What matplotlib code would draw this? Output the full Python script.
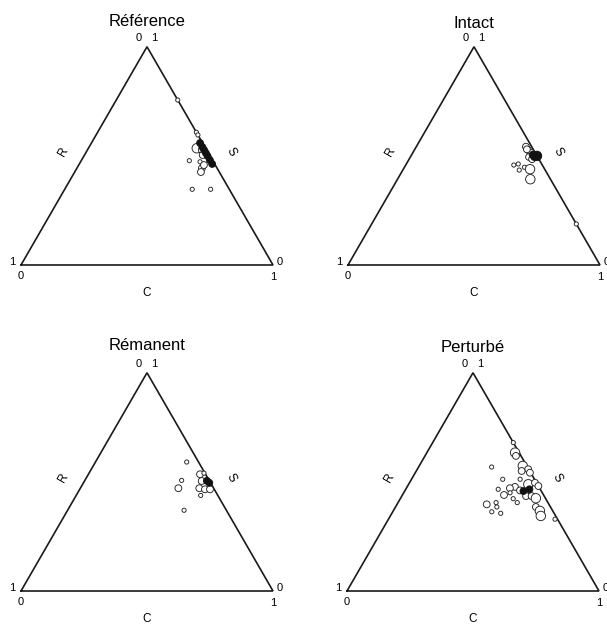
import numpy as np
import matplotlib.pyplot as plt

plt.rcParams['font.family'] = ['Liberation Sans', 'DejaVu Sans']

titles = ['Référence', 'Intact', 'Rémanent', 'Perturbé']

# ternary values: C (competitive) and S (stress-tolerant), R = 1 - C - S
# n = abundance class (1 small .. 3 large), f = filled marker
ref_c = [0.244, 0.392, 0.404, 0.430, 0.454, 0.469, 0.429, 0.474, 0.431, 0.449, 0.463,
         0.477, 0.491, 0.509, 0.527, 0.496, 0.501, 0.497, 0.506, 0.579]
ref_s = [0.756, 0.608, 0.596, 0.535, 0.527, 0.504, 0.478, 0.473, 0.559, 0.541, 0.527,
         0.513, 0.499, 0.481, 0.463, 0.444, 0.426, 0.458, 0.347, 0.347]
ref_n = [1, 1, 1, 3, 2, 2, 1, 1, 2, 2, 2, 2, 2, 2, 2, 2, 2, 2, 1, 1]
ref_f = [0, 0, 0, 0, 0, 0, 0, 0, 1, 1, 1, 1, 1, 1, 1, 0, 0, 0, 0, 0]

int_c = [0.500, 0.435, 0.451, 0.470, 0.491, 0.471, 0.429, 0.444, 0.462, 0.476, 0.503,
         0.527, 0.812, 0.445, 0.480, 0.488]
int_s = [0.500, 0.542, 0.527, 0.513, 0.495, 0.495, 0.458, 0.463, 0.435, 0.448, 0.439,
         0.393, 0.188, 0.530, 0.505, 0.485]
int_n = [3, 2, 2, 2, 2, 2, 1, 1, 1, 1, 3, 3, 1, 2, 2, 2]
int_f = [1, 0, 0, 0, 1, 0, 0, 0, 0, 0, 0, 0, 0, 0, 1, 0]

rem_c = [0.362, 0.384, 0.389, 0.462, 0.443, 0.465, 0.472, 0.497, 0.494, 0.517, 0.499,
         0.456, 0.485]
rem_s = [0.591, 0.507, 0.471, 0.370, 0.535, 0.504, 0.471, 0.466, 0.438, 0.466, 0.496,
         0.540, 0.505]
rem_n = [1, 1, 2, 1, 2, 2, 2, 2, 1, 2, 2, 1, 2]
rem_f = [0, 0, 0, 0, 0, 0, 0, 0, 0, 0, 1, 0, 1]

per_c = [0.320, 0.350, 0.361, 0.411, 0.440, 0.418, 0.455, 0.290, 0.362, 0.431, 0.475,
         0.498, 0.519, 0.428, 0.411, 0.456, 0.491, 0.471, 0.367, 0.403, 0.422, 0.448,
         0.493, 0.515, 0.537, 0.473, 0.356, 0.389, 0.402, 0.393, 0.432, 0.557, 0.582,
         0.597, 0.661]
per_s = [0.680, 0.634, 0.619, 0.573, 0.558, 0.550, 0.542, 0.568, 0.512, 0.512, 0.489,
         0.496, 0.481, 0.477, 0.471, 0.461, 0.466, 0.458, 0.466, 0.440, 0.450, 0.423,
         0.435, 0.435, 0.425, 0.405, 0.397, 0.405, 0.385, 0.363, 0.356, 0.385, 0.367,
         0.344, 0.329]
per_n = [1, 3, 2, 3, 2, 2, 2, 1, 1, 1, 3, 2, 2, 2, 2, 2, 2, 2, 1, 2, 1, 1, 2, 2, 3,
         1, 2, 1, 1, 1, 1, 2, 3, 3, 1]
per_f = [0, 0, 0, 0, 0, 0, 0, 0, 0, 0, 0, 0, 0, 0, 0, 0, 1, 1, 0, 0, 0, 0, 0, 0, 0,
         0, 0, 0, 0, 0, 0, 0, 0, 0, 0]

panels = [
    (ref_c, ref_s, ref_n, ref_f),
    (int_c, int_s, int_n, int_f),
    (rem_c, rem_s, rem_n, rem_f),
    (per_c, per_s, per_n, per_f),
]

W, H, L = 607, 626, 252.0
# bottom-left corner of each triangle and the pixel box of its axes
corners = [(21, 265), (348, 265), (21, 591), (347, 591)]
boxes = [(0, 0, 303, 313), (303, 0, 304, 313), (0, 313, 303, 313), (303, 313, 304, 313)]
title_dy = [243, 241, 245, 243]

sizes = {1: 9, 2: 24, 3: 46}
h = np.sqrt(3) / 2

fig = plt.figure(figsize=(W / 100, H / 100), dpi=100)

for i, (c, s, n, f) in enumerate(panels):
    ox, oy = corners[i]
    bx, by, bw, bh = boxes[i]
    ax = fig.add_axes([bx / W, 1 - (by + bh) / H, bw / W, bh / H])
    ax.set_xlim((bx - ox) / L, (bx + bw - ox) / L)
    ax.set_ylim((oy - (by + bh)) / L, (oy - by) / L)
    ax.axis('off')

    ax.plot([0, 1, 0.5, 0], [0, 0, h, 0], color='#1a1a1a', lw=1.2, zorder=1,
            solid_joinstyle='miter')

    c = np.array(c)
    s = np.array(s)
    x = c + s / 2
    y = s * h
    ss = np.array([sizes[k] for k in n])
    f = np.array(f, dtype=bool)
    ax.scatter(x[~f], y[~f], s=ss[~f], facecolors='white', edgecolors='#222222',
               linewidths=0.65, zorder=2)
    ax.scatter(x[f], y[f], s=ss[f], facecolors='#111111', edgecolors='#111111',
               linewidths=0.65, zorder=3)

    fs = 8
    u = 1 / L
    ax.text(0.5 - 8 * u, h + 9 * u, '0', fontsize=fs, ha='center', va='center')
    ax.text(0.5 + 7 * u, h + 9 * u, '1', fontsize=fs, ha='center', va='center')
    ax.text(-9 * u, 3 * u, '1', fontsize=fs, ha='center', va='center')
    ax.text(0, -11 * u, '0', fontsize=fs, ha='center', va='center')
    ax.text(1 + 7 * u, 3 * u, '0', fontsize=fs, ha='center', va='center')
    ax.text(1, -12 * u, '1', fontsize=fs, ha='center', va='center')
    ax.text(0.5, -28 * u, 'C', fontsize=8.5, ha='center', va='center')
    ax.text(0.167, 0.448, 'R', fontsize=8.5, ha='center', va='center', rotation=60)
    ax.text(0.832, 0.448, 'S', fontsize=8.5, ha='center', va='center', rotation=-60)
    ax.text(0.5, title_dy[i] * u, titles[i], fontsize=12, ha='center', va='center')

fig.savefig('out.png', dpi=100)
